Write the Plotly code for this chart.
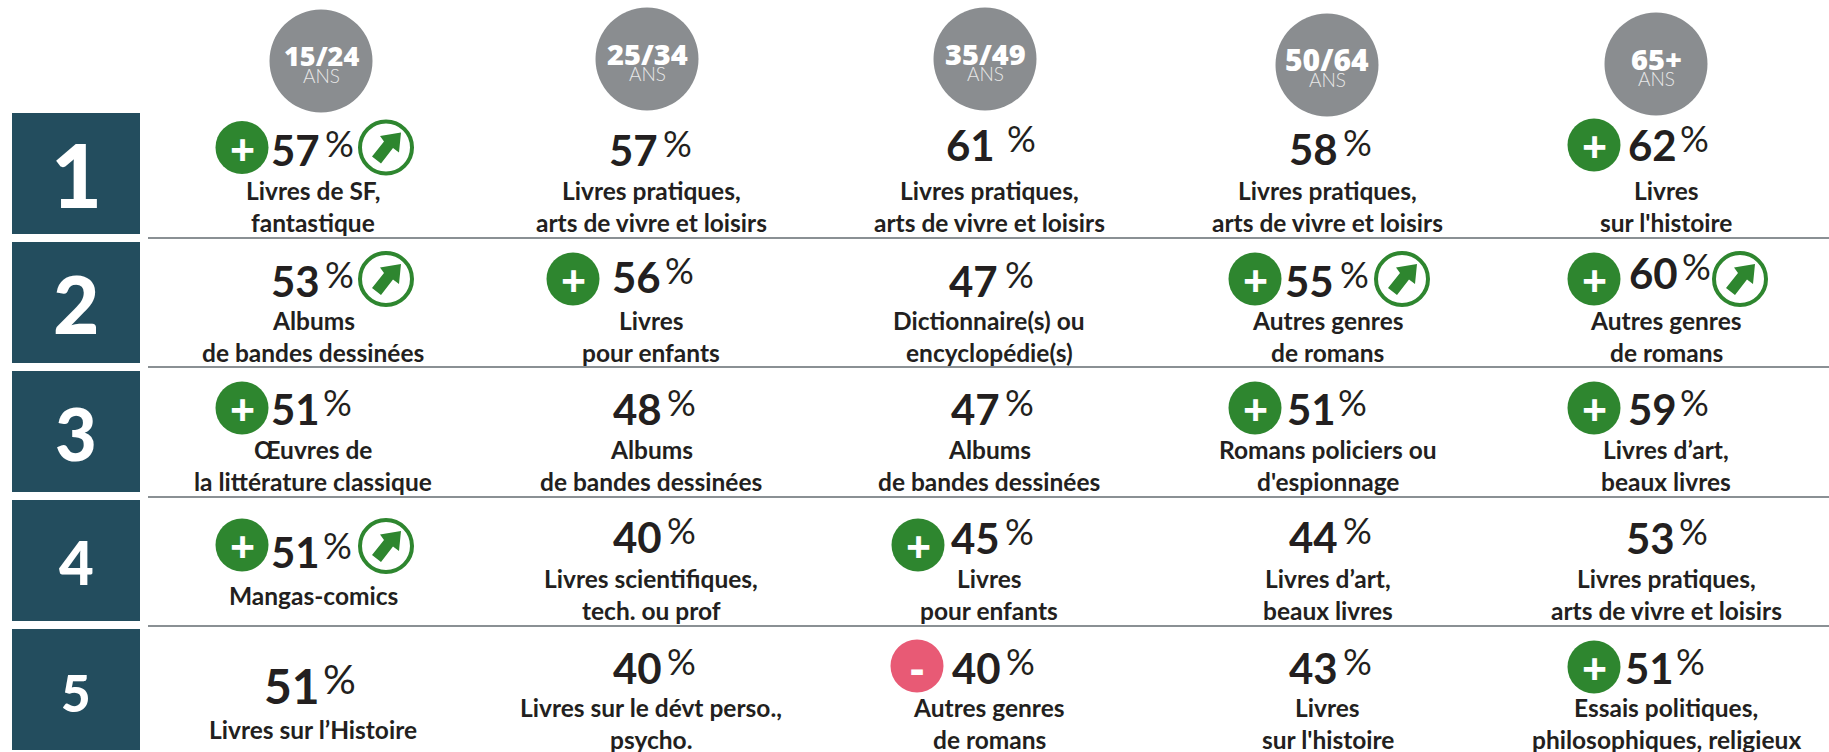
import plotly.graph_objects as go

W, H = 1829, 752
ages = ["15/24", "25/34", "35/49", "50/64", "65+"]
ans = "ANS"
ranks = ["1", "2", "3", "4", "5"]
values = [
    ["57", "57", "61", "58", "62"],
    ["53", "56", "47", "55", "60"],
    ["51", "48", "47", "51", "59"],
    ["51", "40", "45", "44", "53"],
    ["51", "40", "40", "43", "51"],
]
labels = [
    ["Livres de SF,<br>fantastique", "Livres pratiques,<br>arts de vivre et loisirs", "Livres pratiques,<br>arts de vivre et loisirs", "Livres pratiques,<br>arts de vivre et loisirs", "Livres<br>sur l'histoire"],
    ["Albums<br>de bandes dessinées", "Livres<br>pour enfants", "Dictionnaire(s) ou<br>encyclopédie(s)", "Autres genres<br>de romans", "Autres genres<br>de romans"],
    ["Œuvres de<br>la littérature classique", "Albums<br>de bandes dessinées", "Albums<br>de bandes dessinées", "Romans policiers ou<br>d'espionnage", "Livres d’art,<br>beaux livres"],
    ["Mangas-comics", "Livres scientifiques,<br>tech. ou prof", "Livres<br>pour enfants", "Livres d’art,<br>beaux livres", "Livres pratiques,<br>arts de vivre et loisirs"],
    ["Livres sur l’Histoire", "Livres sur le dévt perso.,<br>psycho.", "Autres genres<br>de romans", "Livres<br>sur l'histoire", "Essais politiques,<br>philosophiques, religieux"],
]
signs = [
    ["+", "", "", "", "+"],
    ["", "+", "", "+", "+"],
    ["+", "", "", "+", "+"],
    ["+", "", "+", "", ""],
    ["", "", "-", "", "+"],
]
arrows = [
    [1, 0, 0, 0, 0],
    [1, 0, 0, 1, 1],
    [0, 0, 0, 0, 0],
    [1, 0, 0, 0, 0],
    [0, 0, 0, 0, 0],
]

# ---- layout, in page pixels ----
square_top = [113, 242, 371, 500, 629]
square_h = 121
rank_size = [88, 80, 72, 60, 51]
rank_y = [174, 303, 433, 562, 692]
rule_y = [238, 367, 497, 626]
head_x = [321, 647, 985, 1327, 1656]
head_y = [61, 59, 59, 65, 64]
age_size = [27, 29, 29, 30, 29]
col_x = [313, 651, 989, 1327.5, 1666]
line_y = [(190, 222), (320, 352), (449, 481), (578, 610), (707, 739)]
single_y = {(3, 0): 595, (4, 0): 729}
num_right = [
    [322, 660, 997, 1340, 1679],
    [322, 663, 1000, 1336, 1680],
    [322, 664, 1002, 1338, 1679],
    [322, 664, 1002, 1340, 1677],
    [322, 664, 1003, 1340, 1676],
]
pct_left = [
    [323, 661, 1005, 1341, 1678],
    [323, 663, 1003, 1338, 1680],
    [321, 665, 1003, 1336, 1678],
    [321, 665, 1003, 1341, 1677],
    [321, 665, 1004, 1341, 1674],
]
num_y = [
    [150, 150, 145, 149, 145],
    [281, 277, 281, 281, 273],
    [409, 409, 409, 409, 409],
    [552, 537, 538, 537, 538],
    [685, 668, 668, 668, 668],
]
sign_x = [242, 573, 918, 1255, 1594]
sign_y = [
    [147.5, 0, 0, 0, 145],
    [0, 279, 0, 279, 279],
    [408, 0, 0, 408, 408],
    [545, 0, 545, 0, 0],
    [0, 0, 666, 0, 667],
]
arrow_x = [386, 0, 0, 1402, 1740]
arrow_y = [147.5, 279, 0, 546, 0]
arrow_shape = [(-14, 9), (-2, -6), (-6, -11.5), (15, -15), (13, 5), (7, 0.5), (-5, 16)]

GREEN, RED, NAVY, GREY, INK = "#2e862f", "#e85a75", "#234d5e", "#8a8d90", "#231f20"
FONT = "Lato"

shapes, ann = [], []


def text(x, y, s, size, color=INK, family=FONT, weight=400, anchor="center"):
    ann.append(dict(x=x, y=y, text=s, showarrow=False, xref="x", yref="y", xanchor=anchor, yanchor="middle",
                    font=dict(size=size, color=color, family=family, weight=weight), align="center"))


def circle(cx, cy, r, fill, line=None, lw=0):
    shapes.append(dict(type="circle", x0=cx - r, x1=cx + r, y0=cy - r, y1=cy + r, fillcolor=fill,
                       line=dict(color=line or fill, width=lw), layer="above"))


for i, r in enumerate(ranks):
    shapes.append(dict(type="rect", x0=12, x1=140, y0=square_top[i], y1=square_top[i] + square_h,
                       fillcolor=NAVY, line=dict(width=0)))
    text(76, rank_y[i], r, rank_size[i], "white", FONT, 900)
for y in rule_y:
    shapes.append(dict(type="line", x0=148, x1=W, y0=y, y1=y, line=dict(color="#8a9094", width=2)))
for j, a in enumerate(ages):
    circle(head_x[j], head_y[j], 51.5, GREY)
    text(head_x[j], head_y[j] - 6, a, age_size[j], "white", "Open Sans", 800)
    text(head_x[j], head_y[j] + 14, ans, 19, "#e8e8e8", FONT, 300)

for i in range(5):
    for j in range(5):
        big = (i, j) == (4, 0)
        ny = num_y[i][j]
        text(num_right[i][j], ny, values[i][j], 48 if big else 42, INK, FONT, 700, "right")
        text(pct_left[i][j], ny - 7, "%", 41 if big else 36, INK, FONT, 400, "left")
        parts = labels[i][j].split("<br>")
        if len(parts) == 1:
            text(col_x[j], single_y[(i, j)], parts[0], 24.5, INK, FONT, 700)
        else:
            for part, y in zip(parts, line_y[i]):
                text(col_x[j], y, part, 24.5, INK, FONT, 700)
        if signs[i][j]:
            cx, cy = sign_x[j] - (1 if signs[i][j] == "-" else 0), sign_y[i][j]
            circle(cx, cy, 26.5, GREEN if signs[i][j] == "+" else RED)
            text(cx, cy + 1, signs[i][j], 44, "white", "Open Sans", 700)
        if arrows[i][j]:
            ax, ay = arrow_x[j], arrow_y[i]
            circle(ax, ay, 26, "white", GREEN, 4)
            path = "M" + " L".join(f"{ax + dx},{ay + dy}" for dx, dy in arrow_shape) + " Z"
            shapes.append(dict(type="path", path=path, line=dict(width=0), fillcolor=GREEN, layer="above"))

fig = go.Figure()
fig.update_layout(width=W, height=H, margin=dict(l=0, r=0, t=0, b=0), paper_bgcolor="white", plot_bgcolor="white",
                  showlegend=False, shapes=shapes, annotations=ann,
                  xaxis=dict(range=[0, W], visible=False, fixedrange=True),
                  yaxis=dict(range=[H, 0], visible=False, fixedrange=True))
fig.write_html("out.html", config=dict(displayModeBar=False),
               post_script="document.body.style.margin='0';")
